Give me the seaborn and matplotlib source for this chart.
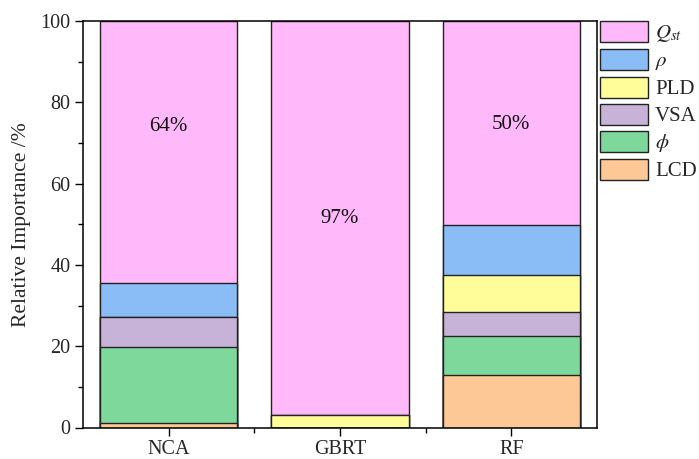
import numpy as np
import pandas as pd
import matplotlib
matplotlib.use("Agg")
import matplotlib.pyplot as plt
from matplotlib.patches import Patch
from matplotlib.ticker import MultipleLocator, FixedLocator
import seaborn as sns

# Models and feature contributions (%), listed from the top of each stack down
models = ["NCA", "GBRT", "RF"]
features = [r"$Q_{st}$", r"$\rho$", "PLD", "VSA", r"$\phi$", "LCD"]
qst = [64.4, 96.9, 50.2]
rho = [8.5, 0.0, 12.4]
pld = [0.0, 3.1, 8.9]
vsa = [7.3, 0.0, 6.1]
phi = [18.8, 0.0, 9.4]
lcd = [1.0, 0.0, 13.0]
colors = ["#FFB8F9", "#8ABCF5", "#FFFD99", "#C8B3D8", "#7ED89B", "#FEC896"]

# Vertical position of each percentage annotation
label_y = [74, 51.5, 74.5]

sns.set_theme(style="ticks")
plt.rcParams["font.family"] = ["Liberation Serif", "DejaVu Serif"]
plt.rcParams["mathtext.fontset"] = "stix"
fs = 14.5

df = pd.DataFrame({"model": models, "Qst": qst, "rho": rho, "PLD": pld,
                   "VSA": vsa, "phi": phi, "LCD": lcd})
cols = ["Qst", "rho", "PLD", "VSA", "phi", "LCD"]

fig = plt.figure(figsize=(6.99, 4.59), dpi=100)
ax = fig.add_axes([83 / 699, 1 - 427.5 / 459, (597 - 83) / 699, (427.5 - 21) / 459])

# Stacked bars: draw cumulative totals from the tallest layer down
for i, (col, c) in enumerate(zip(cols, colors)):
    cum = df[cols[i:]].sum(axis=1)
    sns.barplot(x=df["model"], y=cum, color=c, width=0.8, saturation=1,
                edgecolor="#222222", linewidth=1.0, ax=ax, order=models)

for i, m in enumerate(models):
    ax.text(i, label_y[i], f"{df['Qst'][i]:.0f}%", ha="center", va="center",
            fontsize=fs + 0.5, color="#111111")

ax.set_xlim(-0.5, 2.5)
ax.set_ylim(0, 100)
ax.set_xlabel("")
ax.set_ylabel("Relative Importance /%", fontsize=15.5, labelpad=7)
ax.yaxis.set_major_locator(MultipleLocator(20))
ax.yaxis.set_minor_locator(MultipleLocator(10))
ax.xaxis.set_minor_locator(FixedLocator([0.5, 1.5]))
ax.tick_params(axis="both", which="major", direction="out", length=6, width=1,
               labelsize=fs, color="black", pad=3)
ax.tick_params(axis="both", which="minor", direction="out", length=3.5, width=1,
               color="black")
ax.tick_params(top=False, right=False, which="both")
for s in ax.spines.values():
    s.set_visible(True)
    s.set_linewidth(1.1)
    s.set_color("black")

handles = [Patch(facecolor=c, edgecolor="#222222", linewidth=1.0) for c in colors]
fig.legend(handles, features, loc="upper left",
           bbox_to_anchor=(600 / 699, 1 - 21 / 459), frameon=False,
           fontsize=15, handlelength=2.3, handleheight=1.15,
           labelspacing=0.22, handletextpad=0.35, borderpad=0, borderaxespad=0)

fig.savefig("out.png", dpi=100)
